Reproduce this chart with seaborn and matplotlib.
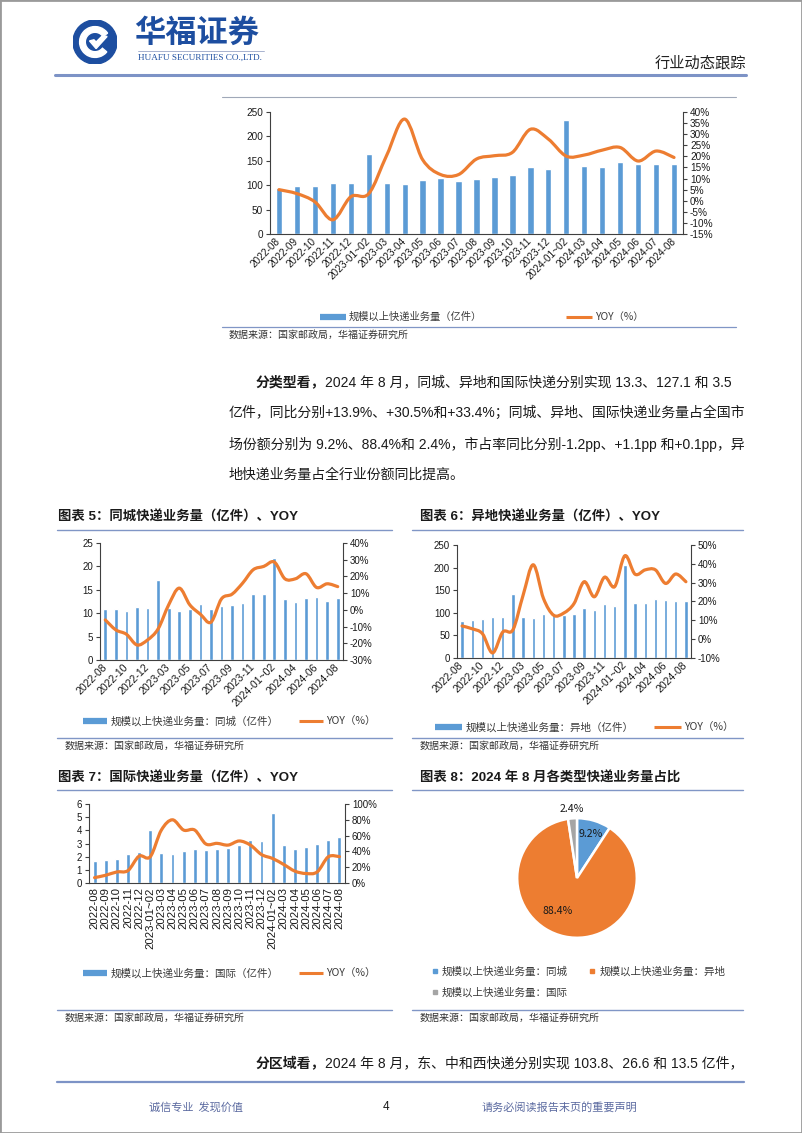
import numpy as np
import pandas as pd
import matplotlib
matplotlib.use("Agg")
import matplotlib.pyplot as plt
import seaborn as sns
from matplotlib.path import Path
from matplotlib.patches import PathPatch, Circle, Wedge, Rectangle, Polygon
from matplotlib.lines import Line2D
from matplotlib import font_manager as fm

# ---------------- data ----------------
months = ["2022-08", "2022-09", "2022-10", "2022-11", "2022-12", "2023-01~02",
          "2023-03", "2023-04", "2023-05", "2023-06", "2023-07", "2023-08",
          "2023-09", "2023-10", "2023-11", "2023-12", "2024-01~02", "2024-03",
          "2024-04", "2024-05", "2024-06", "2024-07", "2024-08"]

total_vol = [95, 97.7, 98, 104, 104, 164, 105, 102.5, 110, 115, 108, 112,
             117, 121, 137, 133, 233.6, 138.7, 137, 148, 144, 143, 143.9]
total_yoy = [5.0, 3.2, -0.5, -8.6, 1.8, 3.2, 20.5, 36.8, 18.5, 11.8, 11.8, 18.8,
             20.3, 21.8, 32.2, 27.8, 20.1, 20.6, 22.8, 24.0, 17.9, 22.4, 19.5]

city_vol = [10.9, 10.8, 10.5, 11.3, 11.1, 17.0, 11.1, 10.4, 10.9, 11.9, 10.9, 11.6,
            11.7, 12.2, 14.0, 14.1, 21.9, 13.1, 12.4, 13.2, 13.5, 12.6, 13.3]
city_yoy = [-6.0, -12.0, -14.6, -21.0, -18.0, -11.4, 3.0, 13.0, 3.0, -2.6, -7.4, 6.6,
            9.4, 16.0, 24.0, 26.0, 28.6, 18.6, 18.6, 21.6, 13.4, 15.6, 13.9]

inter_vol = [81.7, 84.7, 86.9, 89.9, 89.9, 142.6, 91.4, 89.2, 96.6, 100.3, 95.1, 98.0,
             110.0, 105.5, 119.6, 115.9, 205.8, 122.6, 122.6, 131.5, 129.3, 127.0, 127.1]
inter_yoy = [7.0, 5.5, 2.9, -7.3, 3.8, 5.0, 23.4, 39.5, 21.6, 12.7, 13.9, 18.9,
             30.5, 22.5, 32.9, 27.9, 44.3, 34.5, 36.8, 36.8, 29.6, 34.6, 30.5]

intl_vol = [1.66, 1.76, 1.81, 2.22, 2.32, 4.0, 2.27, 2.22, 2.43, 2.58, 2.48, 2.58,
            2.68, 2.86, 3.27, 3.17, 5.31, 2.86, 2.6, 2.76, 2.96, 3.29, 3.5]
intl_yoy = [6.8, 9.8, 14.0, 15.7, 34.0, 33.2, 67.0, 80.0, 67.0, 67.0, 49.4, 50.2,
            48.0, 53.2, 48.0, 36.0, 31.0, 23.4, 15.0, 12.0, 14.0, 33.2, 33.4]

share_names = ["规模以上快递业务量：同城", "规模以上快递业务量：异地", "规模以上快递业务量：国际"]
share_vals = [9.2, 88.4, 2.4]

left_ticks_total = [0, 50, 100, 150, 200, 250]
right_ticks_total = [-15, -10, -5, 0, 5, 10, 15, 20, 25, 30, 35, 40]
left_ticks_city = [0, 5, 10, 15, 20, 25]
right_ticks_city = [-30, -20, -10, 0, 10, 20, 30, 40]
left_ticks_inter = [0, 50, 100, 150, 200, 250]
right_ticks_inter = [-10, 0, 10, 20, 30, 40, 50]
left_ticks_intl = [0, 1, 2, 3, 4, 5, 6]
right_ticks_intl = [0, 20, 40, 60, 80, 100]

# ---------------- style ----------------
sns.set_theme(style="white")
names = {f.name for f in fm.fontManager.ttflist}
CJK = "Noto Sans CJK SC"
LAT = "Liberation Sans"
plt.rcParams["font.family"] = [LAT, CJK]
plt.rcParams["axes.unicode_minus"] = False

BLUE = "#5b9bd5"
ORANGE = "#ed7d31"
GRAY = "#a5a5a5"
RULE = "#8096c6"
AXC = "#404040"
TXT = "#1a1a1a"

W, H = 802, 1133
fig = plt.figure(figsize=(W / 100, H / 100), dpi=100)
fig.patch.set_facecolor("white")


def fx(x):
    return x / W


def fy(y):
    return 1 - y / H


def rect(l, r, t, b):
    return [l / W, 1 - b / H, (r - l) / W, (b - t) / H]


def hline(x0, x1, y, color=RULE, lw=1.0):
    fig.add_artist(Line2D([fx(x0), fx(x1)], [fy(y), fy(y)], transform=fig.transFigure,
                          color=color, lw=lw))


def smooth_line(ax, ys, color, lw):
    xs = np.arange(len(ys), dtype=float)
    ys = np.asarray(ys, dtype=float)
    n = len(xs)
    verts = [(xs[0], ys[0])]
    codes = [Path.MOVETO]
    for i in range(n - 1):
        p0 = np.array([xs[max(i - 1, 0)], ys[max(i - 1, 0)]])
        p1 = np.array([xs[i], ys[i]])
        p2 = np.array([xs[i + 1], ys[i + 1]])
        p3 = np.array([xs[min(i + 2, n - 1)], ys[min(i + 2, n - 1)]])
        c1 = p1 + (p2 - p0) / 6.0
        c2 = p2 - (p3 - p1) / 6.0
        verts += [tuple(c1), tuple(c2), tuple(p2)]
        codes += [Path.CURVE4] * 3
    ax.add_patch(PathPatch(Path(verts, codes), facecolor="none", edgecolor=color,
                           lw=lw, capstyle="round", joinstyle="round", zorder=3))


def combo(box, cats, bars, yoy, lticks, rticks, every, rot, xfs, yfs=7, bw=0.35, lw=2.3):
    n = len(cats)
    ax = fig.add_axes(rect(*box))
    df = pd.DataFrame({"cat": cats, "val": bars})
    sns.barplot(data=df, x="cat", y="val", ax=ax, color=BLUE, saturation=1, width=bw)
    ax.set_xlim(-0.5, n - 0.5)
    ax.set_ylim(lticks[0], lticks[-1])
    ax.set_yticks(lticks)
    ax.set_yticklabels([f"{v:g}" for v in lticks], fontsize=yfs, color=TXT)
    ax.set_xlabel("")
    ax.set_ylabel("")
    ax.set_xticks(range(0, n, every))
    ax.set_xticklabels([cats[i] for i in range(0, n, every)], rotation=rot, ha="right",
                       va="center", rotation_mode="anchor", fontsize=xfs, color=TXT)
    ax.set_xticks(np.arange(-0.5, n, 1.0), minor=True)
    ax.tick_params(axis="x", which="major", length=0, pad=4 if rot == 45 else 3)
    ax.tick_params(axis="x", which="minor", length=3, width=0.8, color=AXC, direction="out")
    ax.tick_params(axis="y", which="major", length=3, width=0.8, color=AXC, direction="out",
                   pad=2, left=True)
    for s in ["top", "right"]:
        ax.spines[s].set_visible(False)
    for s in ["left", "bottom"]:
        ax.spines[s].set_color(AXC)
        ax.spines[s].set_linewidth(0.8)
    ax2 = ax.twinx()
    ax2.set_ylim(rticks[0], rticks[-1])
    ax2.set_yticks(rticks)
    ax2.set_yticklabels([f"{v:g}%" for v in rticks], fontsize=yfs, color=TXT)
    ax2.tick_params(axis="y", which="major", length=3, width=0.8, color=AXC,
                    direction="out", pad=2, right=True)
    for s in ["top", "left", "bottom"]:
        ax2.spines[s].set_visible(False)
    ax2.spines["right"].set_color(AXC)
    ax2.spines["right"].set_linewidth(0.8)
    ax2.grid(False)
    ax.grid(False)
    smooth_line(ax2, yoy, ORANGE, lw)
    return ax, ax2


def legend2(labels, x_left, y, fs, hl, cs):
    handles = [Line2D([0], [0], color=BLUE, lw=4.5, solid_capstyle="butt"),
               Line2D([0], [0], color=ORANGE, lw=2.2, solid_capstyle="butt")]
    fig.legend(handles, labels, loc="center left", bbox_to_anchor=(fx(x_left), fy(y)),
               ncol=2, frameon=False, handlelength=hl, handletextpad=0.3,
               columnspacing=cs, borderpad=0, borderaxespad=0,
               prop=dict(family=[CJK], size=fs, weight="light"), labelcolor="#3a3a3a")


def source(x, y):
    fig.text(fx(x), fy(y), "数据来源：国家邮政局，华福证券研究所", fontsize=7.2,
             family=[CJK], weight="light", color="#333333", va="center", ha="left")


def title(x, y, s):
    fig.text(fx(x), fy(y), s, fontsize=9.6, weight="bold", color=TXT, va="center",
             ha="left", family=[LAT, CJK])


# ---------------- page frame / header ----------------
fig.add_artist(Rectangle((0, 0), 1, 1, transform=fig.transFigure, fill=False,
                         edgecolor="#9a9a9a", lw=2))
lax = fig.add_axes(rect(73, 117, 20, 64))
lax.set_xlim(-1, 1)
lax.set_ylim(-1, 1)
lax.set_aspect("equal")
lax.axis("off")
lax.add_patch(Circle((0, 0), 1.0, color="#1d4ea0"))
lax.add_patch(Wedge((0, 0), 0.7, 35, 320, width=0.26, color="white"))
lax.add_patch(Polygon([[-0.25, 0.05], [0.05, -0.3], [0.55, 0.25], [0.35, 0.3], [0.05, 0.0],
                       [-0.05, 0.1]], closed=True, color="white"))
fig.text(fx(134), fy(33), "华福证券", fontsize=22.5, weight="bold", color="#1d4ea0",
         family=[CJK], va="center", ha="left")
hline(138, 264, 51, color="#9aa6c8", lw=0.6)
fig.text(fx(138), fy(57.5), "HUAFU SECURITIES CO.,LTD.", fontsize=6.6, color="#1d4ea0",
         family=["Liberation Serif"], va="center", ha="left")
fig.text(fx(746), fy(63), "行业动态跟踪", fontsize=11, color="#222222", family=[CJK],
         weight="light", va="center", ha="right")
hline(55, 746, 75, color="#7d93c6", lw=2.2)

# ---------------- top chart ----------------
hline(222, 736, 97, color="#a0a8b8", lw=0.8)
combo((270, 683, 112, 234), months, total_vol, total_yoy, left_ticks_total,
      right_ticks_total, 1, 45, 7.2, yfs=7.2)
legend2(["规模以上快递业务量（亿件）", "YOY（%）"], 320, 317, 7.4, 2.5, 8.2)
hline(222, 736, 327, color=RULE, lw=0.9)
source(229, 335)

# ---------------- paragraph ----------------
PS = 10.0
renderer = fig.canvas.get_renderer()


def para_line(x, y, parts):
    cx = x
    for s, bold in parts:
        t = fig.text(fx(cx), fy(y), s, fontsize=PS, weight="bold" if bold else "light",
                     family=[LAT, CJK], color=TXT, va="center", ha="left")
        cx += t.get_window_extent(renderer).width


para_line(256, 382, [("分类型看，", True),
                     ("2024 年 8 月，同城、异地和国际快递分别实现 13.3、127.1 和 3.5", False)])
para_line(229, 413, [("亿件，同比分别+13.9%、+30.5%和+33.4%；同城、异地、国际快递业务量占全国市", False)])
para_line(229, 444, [("场份额分别为 9.2%、88.4%和 2.4%，市占率同比分别-1.2pp、+1.1pp 和+0.1pp，异", False)])
para_line(229, 475, [("地快递业务量占全行业份额同比提高。", False)])

# ---------------- chart 5 ----------------
title(58, 517, "图表 5：同城快递业务量（亿件）、YOY")
hline(57, 392, 530, lw=1.0)
combo((100, 343, 543, 660), months, city_vol, city_yoy, left_ticks_city,
      right_ticks_city, 2, 45, 7.6)
legend2(["规模以上快递业务量：同城（亿件）", "YOY（%）"], 83, 721, 7.6, 2.3, 1.9)
hline(57, 392, 738, lw=1.0)
source(65, 746)

# ---------------- chart 6 ----------------
title(420, 517, "图表 6：异地快递业务量（亿件）、YOY")
hline(412, 743, 530, lw=1.0)
combo((457, 691, 545, 658), months, inter_vol, inter_yoy, left_ticks_inter,
      right_ticks_inter, 2, 45, 7.6, bw=0.33)
legend2(["规模以上快递业务量：异地（亿件）", "YOY（%）"], 435, 727, 7.6, 2.6, 1.9)
hline(412, 743, 738, lw=1.0)
source(420, 746)

# ---------------- chart 7 ----------------
title(58, 778, "图表 7：国际快递业务量（亿件）、YOY")
hline(57, 392, 790, lw=1.0)
combo((89, 345, 804, 883), months, intl_vol, intl_yoy, left_ticks_intl,
      right_ticks_intl, 1, 90, 8.2)
legend2(["规模以上快递业务量：国际（亿件）", "YOY（%）"], 83, 973, 7.6, 2.3, 1.9)
hline(57, 392, 1010, lw=1.0)
source(65, 1018)

# ---------------- chart 8 (pie) ----------------
title(420, 778, "图表 8：2024 年 8 月各类型快递业务量占比")
hline(412, 743, 790, lw=1.0)
cx, cy, R = 577, 878, 61
pax = fig.add_axes(rect(cx - R, cx + R, cy - R, cy + R))
pax.pie(share_vals, colors=[BLUE, ORANGE, GRAY], startangle=90, counterclock=False,
        wedgeprops=dict(edgecolor="white", linewidth=1.8))
pax.set_xlim(-1.02, 1.02)
pax.set_ylim(-1.02, 1.02)
pax.set_aspect("equal")
lab_pos = [(0.22, 0.74), (-0.32, -0.56), (-0.09, 1.16)]
for v, (px, py) in zip(share_vals, lab_pos):
    pax.text(px, py, f"{v:.1f}%", fontsize=7.6, family=[CJK], color=TXT,
             ha="center", va="center", clip_on=False)
ph = [Line2D([0], [0], marker="s", color=c, linestyle="none", markersize=3)
      for c in [BLUE, GRAY, ORANGE]]
fig.legend(ph, [share_names[0], share_names[2], share_names[1]], loc="upper left",
           bbox_to_anchor=(fx(432), fy(966)), ncol=2, frameon=False, handlelength=0.6,
           handletextpad=0.35, columnspacing=2.0, labelspacing=1.0, borderpad=0,
           borderaxespad=0, prop=dict(family=[CJK], size=7.6, weight="light"),
           labelcolor="#3a3a3a")
hline(412, 743, 1010, lw=1.0)
source(420, 1018)

# ---------------- bottom text / footer ----------------
para_line(256, 1063, [("分区域看，", True),
                      ("2024 年 8 月，东、中和西快递分别实现 103.8、26.6 和 13.5 亿件，", False)])
hline(57, 744, 1082, color="#7d93c6", lw=1.6)
fig.text(fx(149), fy(1107), "诚信专业  发现价值", fontsize=8, family=[CJK], weight="light",
         color="#5b6aa0", va="center", ha="left")
fig.text(fx(386), fy(1107), "4", fontsize=8.5, family=[LAT], color=TXT, va="center",
         ha="center")
fig.text(fx(482), fy(1107), "请务必阅读报告末页的重要声明", fontsize=8, family=[CJK],
         weight="light", color="#5b6aa0", va="center", ha="left")

fig.savefig("out.png", dpi=100, facecolor="white")
